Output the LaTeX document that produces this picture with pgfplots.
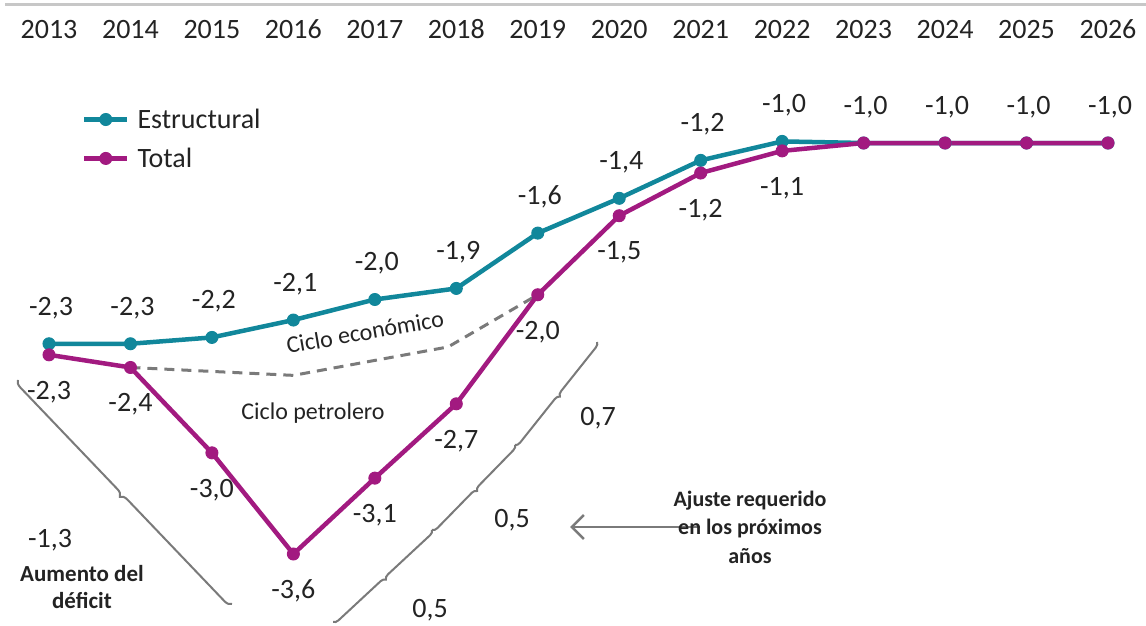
\documentclass[border=0pt]{standalone}
\usepackage{fontspec}
\setmainfont{Carlito}
\usepackage{pgfplots}
\pgfplotsset{compat=1.18}
\usetikzlibrary{decorations.pathreplacing,arrows.meta}
\definecolor{teal1}{RGB}{17,135,155}
\definecolor{mag1}{RGB}{162,26,128}
\definecolor{dgray}{RGB}{122,122,122}
\definecolor{txt}{RGB}{35,35,35}
\newcommand{\fnum}{\fontsize{28}{30}\selectfont}
\begin{document}
\begin{tikzpicture}[x=1pt,y=1pt]
\useasboundingbox (0,0) rectangle (1146,625);
\begin{axis}[
  at={(49pt,71pt)}, anchor=south west,
  scale only axis, width=1059pt, height=411pt,
  xmin=2013, xmax=2026, ymin=-3.6, ymax=-1.0,
  clip=false,
  axis x line*=top, axis y line=none,
  x axis line style={draw=none},
  major tick length=0pt,
  xtick={2013,2014,2015,2016,2017,2018,2019,2020,2021,2022,2023,2024,2025,2026},
  xticklabels={2013,2014,2015,2016,2017,2018,2019,2020,2021,2022,2023,2024,2025,2026},
  xticklabel style={anchor=base, yshift=104pt, font=\fnum, text=txt},
  legend style={at={(0.031,1.088)}, anchor=north west, draw=none, fill=none,
    font=\fnum, text=txt, row sep=14pt, inner sep=0pt,
    /tikz/every odd column/.append style={column sep=6pt}},
  legend cell align=left,
  legend image code/.code={\draw[mark repeat=2,mark phase=2,#1] plot coordinates {(0pt,0pt) (21.5pt,0pt) (43pt,0pt)};},
]
% Ciclo economico (dashed)
\addplot[forget plot, dgray, line width=3pt, dash pattern=on 10pt off 7pt] coordinates {
  (2014,-2.42) (2016,-2.47) (2017.9,-2.29) (2019,-1.96)};
% Estructural
\addplot[teal1, line width=4.5pt, mark=*, mark size=6pt, mark options={solid, line width=1pt},
  nodes near coords, point meta=explicit symbolic,
  every node near coord/.style={font=\fnum, text=txt, anchor=center, yshift=36pt, xshift=2pt}]
  table[meta=lab] {
x y lab
2013 -2.27 -2,3
2014 -2.27 -2,3
2015 -2.23 -2,2
2016 -2.12 -2,1
2017 -1.99 -2,0
2018 -1.92 -1,9
2019 -1.57 -1,6
2020 -1.35 -1,4
2021 -1.11 -1,2
2022 -0.99 -1,0
2023 -1.00 -1,0
2024 -1.00 -1,0
2025 -1.00 -1,0
2026 -1.00 -1,0
};
% Total
\addplot[mag1, line width=4.5pt, mark=*, mark size=6pt, mark options={solid, line width=1pt}]
  table {
x y
2013 -2.34
2014 -2.42
2015 -2.96
2016 -3.60
2017 -3.12
2018 -2.65
2019 -1.96
2020 -1.46
2021 -1.19
2022 -1.05
2023 -1.00
2024 -1.00
2025 -1.00
2026 -1.00
};
% Total labels
\addplot[forget plot, draw=none, mark=none,
  nodes near coords, point meta=explicit symbolic,
  every node near coord/.style={font=\fnum, text=txt, anchor=center, yshift=-37pt}]
  table[meta=lab] {
x y lab
2013 -2.34 -2,3
2014 -2.42 -2,4
2015 -2.96 -3,0
2016 -3.60 -3,6
2017 -3.12 -3,1
2018 -2.65 -2,7
2019 -1.96 -2,0
2020 -1.46 -1,5
2021 -1.19 -1,2
2022 -1.05 -1,1
};
\legend{Estructural, Total}
\end{axis}
% top rule
\draw[black!22, line width=3pt] (5,620) -- (1146,620);
% braces
\draw[dgray, line width=2pt, decorate, decoration={brace, amplitude=7pt}] (232,21) -- (18,245);
\draw[dgray, line width=2pt, decorate, decoration={brace, amplitude=5pt}] (432,95) -- (333,3);
\draw[dgray, line width=2pt, decorate, decoration={brace, amplitude=5pt}] (515,180) -- (432,95);
\draw[dgray, line width=2pt, decorate, decoration={brace, amplitude=5pt}] (597,283) -- (515,180);
% arrow
\draw[dgray, line width=2.5pt, -{Straight Barb[length=12pt,width=24pt]}] (700,98) -- (570,98);
% texts
\node[font=\fontsize{24}{26}\selectfont, rotate=10, text=txt] at (365,293) {Ciclo económico};
\node[font=\fontsize{24}{26}\selectfont, text=txt] at (313,212) {Ciclo petrolero};
\node[font=\fnum, text=txt] at (50,85) {-1,3};
\node[font=\fontsize{23}{27}\selectfont\bfseries, align=center, text=txt] at (82,38) {Aumento del\\déficit};
\node[font=\fnum, text=txt] at (430,15) {0,5};
\node[font=\fnum, text=txt] at (512,105) {0,5};
\node[font=\fnum, text=txt] at (598,207) {0,7};
\node[font=\fontsize{22}{28.5}\selectfont\bfseries, align=center, text=txt] at (750,98) {Ajuste requerido\\en los próximos\\años};
\end{tikzpicture}
\end{document}
